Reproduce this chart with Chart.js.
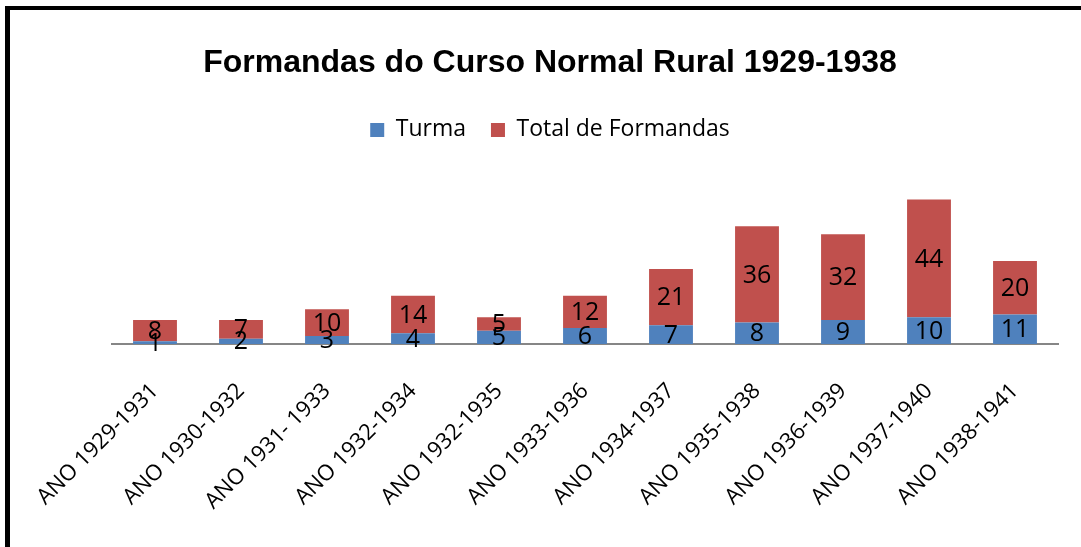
<!DOCTYPE html>
<html>
<head>
<meta charset="utf-8">
<script src="https://cdn.jsdelivr.net/npm/chart.js@4"></script>
<style>
  html, body { margin: 0; padding: 0; background: #fff; }
  #wrap { position: relative; width: 1081px; height: 547px; }
  #frame {
    position: absolute; left: 5px; top: 6px; width: 1076px; height: 537px;
    border-left: 5px solid #000; border-top: 4px solid #000; border-bottom: 4px solid #000;
    box-sizing: content-box; pointer-events: none;
  }
  canvas { position: absolute; left: 0; top: 0; }
</style>
</head>
<body>
<div id="wrap">
  <canvas id="chart" width="1081" height="547"></canvas>
  <div id="frame"></div>
</div>
<script>
// Données du graphique
const categories = ['ANO 1929-1931', 'ANO 1930-1932', 'ANO 1931- 1933', 'ANO 1932-1934', 'ANO 1932-1935',
    'ANO 1933-1936', 'ANO 1934-1937', 'ANO 1935-1938', 'ANO 1936-1939', 'ANO 1937-1940', 'ANO 1938-1941'];
const turma = [1, 2, 3, 4, 5, 6, 7, 8, 9, 10, 11];
const totalFormandas = [8, 7, 10, 14, 5, 12, 21, 36, 32, 44, 20];

// Plugin pour écrire les valeurs au centre des barres
const barLabels = {
    id: 'barLabels',
    afterDatasetsDraw(chart) {
        const ctx = chart.ctx;
        ctx.save();
        ctx.font = '25px "Open Sans", sans-serif';
        ctx.fillStyle = '#000';
        ctx.textAlign = 'center';
        ctx.textBaseline = 'middle';
        chart.data.datasets.forEach((ds, i) => {
            chart.getDatasetMeta(i).data.forEach((bar, j) => {
                const mid = (bar.y + bar.base) / 2;
                ctx.fillText(ds.data[j], bar.x, mid + 1);
            });
        });
        ctx.restore();
    }
};

new Chart(document.getElementById('chart').getContext('2d'), {
    type: 'bar',
    data: {
        labels: categories,
        datasets: [
            { label: 'Turma', data: turma, backgroundColor: '#4F81BD' },
            { label: 'Total de Formandas', data: totalFormandas, backgroundColor: '#C0504D' }
        ]
    },
    options: {
        responsive: false,
        animation: false,
        layout: { padding: { left: 42, right: 23, top: 0, bottom: 0 } },
        datasets: { bar: { categoryPercentage: 1, barPercentage: 0.51 } },
        plugins: {
            tooltip: { enabled: false },
            title: {
                display: true,
                text: 'Formandas do Curso Normal Rural 1929-1938',
                color: '#000',
                font: { family: '"Liberation Sans", Arial, sans-serif', size: 32, weight: 'bold' },
                padding: { top: 44, bottom: 11 }
            },
            legend: {
                position: 'top',
                labels: {
                    color: '#000',
                    font: { family: '"Open Sans", sans-serif', size: 23 },
                    boxWidth: 14, boxHeight: 14, padding: 25
                }
            }
        },
        scales: {
            x: {
                stacked: true,
                grid: { display: false },
                border: { display: true, color: '#868686', width: 2 },
                ticks: {
                    color: '#000',
                    font: { family: '"Open Sans", sans-serif', size: 22 },
                    minRotation: 45, maxRotation: 45, padding: 26
                },
                afterFit(scale) { scale.height = 203; }
            },
            y: {
                stacked: true,
                display: true,
                min: 0,
                max: 72,
                grid: { display: false },
                border: { display: false },
                ticks: { display: false },
                afterFit(scale) { scale.width = 70; }
            }
        }
    },
    plugins: [barLabels]
});
</script>
</body>
</html>
